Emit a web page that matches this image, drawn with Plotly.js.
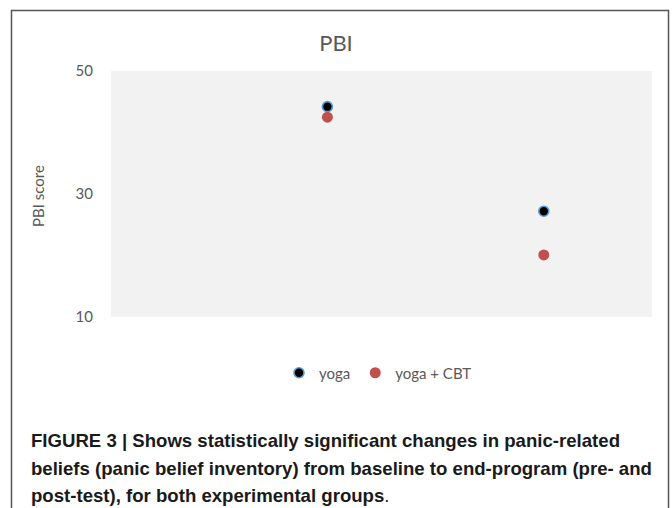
<!DOCTYPE html>
<html>
<head>
<meta charset="utf-8">
<script src="https://cdn.plot.ly/plotly-3.0.1.min.js"></script>
<style>
  html, body { margin: 0; padding: 0; background: #ffffff; }
  #chart { width: 672px; height: 508px; }
</style>
</head>
<body>
<div id="chart"></div>
<script>
// ---- data ----
const timePoints = [1, 2];               // pre-test, post-test
const timeLabels = ['pre-test', 'post-test'];
const yogaScores = [44.2, 27.2];
const yogaCbtScores = [42.5, 20.1];
const seriesNames = ['yoga', 'yoga + CBT'];
const yTickValues = [10, 30, 50];
const chartTitle = 'PBI';
const yAxisTitle = 'PBI score';
const captionLines = [
  '<b>FIGURE 3 | Shows statistically significant changes in panic-related</b>',
  '<b>beliefs (panic belief inventory) from baseline to end-program (pre- and</b>',
  '<b>post-test), for both experimental groups</b>.'
];

// ---- layout helpers (pixel -> paper) ----
const W = 672, H = 508;
const L = 111, R = 652, T = 71, B = 317;
const px = x => (x - L) / (R - L);
const py = y => (B - y) / (B - T);

const gray = '#595959';
const chartFont = 'Lato, "Open Sans", sans-serif';
const captionFont = '"Liberation Sans", Arial, sans-serif';

const traces = [
  {
    type: 'scatter', mode: 'markers', name: seriesNames[0],
    x: timePoints, y: yogaScores, text: timeLabels,
    marker: { color: '#000000', size: 10, line: { color: '#5b9bd5', width: 1.6 } }
  },
  {
    type: 'scatter', mode: 'markers', name: seriesNames[1],
    x: timePoints, y: yogaCbtScores, text: timeLabels,
    marker: { color: '#c0504d', size: 11, line: { color: '#c0504d', width: 0 } }
  }
];

const captionY = [441, 468, 495];
const annotations = [
  {
    text: yAxisTitle, xref: 'paper', yref: 'paper', x: px(38), y: py(196),
    textangle: -90, showarrow: false, font: { family: chartFont, size: 15, color: gray },
    xanchor: 'center', yanchor: 'middle'
  }
].concat(captionLines.map((t, i) => ({
  text: t, xref: 'paper', yref: 'paper', x: px(29), y: py(captionY[i]),
  xanchor: 'left', yanchor: 'middle', showarrow: false, align: 'left',
  font: { family: captionFont, size: 18.6, color: '#1a1a1a' }
})));

const layout = {
  width: W, height: H,
  margin: { l: L, r: W - R, t: T, b: H - B },
  paper_bgcolor: '#ffffff',
  plot_bgcolor: '#f2f2f2',
  font: { family: chartFont, color: gray },
  title: {
    text: chartTitle, x: 0.5, xref: 'container', xanchor: 'center',
    y: 1 - 43 / H, yref: 'container', yanchor: 'middle',
    font: { family: chartFont, size: 22, color: gray }
  },
  xaxis: {
    range: [0, 2.5], visible: false, showgrid: false, zeroline: false, fixedrange: true
  },
  yaxis: {
    range: [10, 50], tickvals: yTickValues, showgrid: false, zeroline: false,
    showline: false, ticks: 'outside', ticklen: 14, tickcolor: 'rgba(0,0,0,0)',
    tickfont: { family: chartFont, size: 15, color: gray }
  },
  showlegend: true,
  legend: {
    orientation: 'h', xref: 'paper', yref: 'paper',
    x: px(378), y: py(373), xanchor: 'center', yanchor: 'middle',
    font: { family: chartFont, size: 15, color: gray },
    itemwidth: 30, bgcolor: 'rgba(0,0,0,0)'
  },
  annotations: annotations,
  shapes: [
    {
      type: 'rect', xref: 'paper', yref: 'paper',
      x0: px(11.5), x1: px(668.5), y0: py(530), y1: py(10.5),
      line: { color: '#555555', width: 1.5 }, fillcolor: 'rgba(0,0,0,0)', layer: 'above'
    }
  ]
};

Plotly.newPlot('chart', traces, layout, { displayModeBar: false, staticPlot: true });
</script>
</body>
</html>
